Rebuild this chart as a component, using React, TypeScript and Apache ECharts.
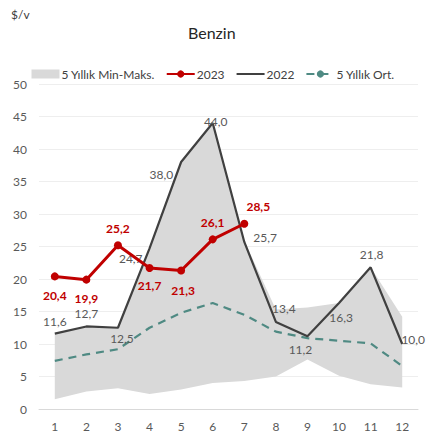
import React, { useEffect, useRef } from "react";
import * as echarts from "echarts";

const months = ["1", "2", "3", "4", "5", "6", "7", "8", "9", "10", "11", "12"];
const bandMin = [1.5, 2.7, 3.2, 2.3, 3.0, 4.0, 4.3, 5.0, 7.6, 5.1, 3.8, 3.3];
const bandMax = [11.6, 12.7, 12.5, 24.7, 38.0, 44.0, 25.9, 15.3, 15.6, 16.3, 21.8, 14.2];
const y2023 = [20.4, 19.9, 25.2, 21.7, 21.3, 26.1, 28.5];
const y2022 = [11.6, 12.7, 12.5, 24.7, 38.0, 44.0, 25.7, 13.4, 11.2, 16.3, 21.8, 10.0];
const avg5 = [7.4, 8.4, 9.2, 12.5, 14.8, 16.3, 14.5, 11.9, 10.9, 10.5, 10.1, 6.6];

const pos2023: [string, number[]][] = [
  ["bottom", [0, 4]],
  ["bottom", [0, 4]],
  ["top", [0, -2]],
  ["bottom", [0, 3]],
  ["bottom", [2, 5]],
  ["top", [0, -2]],
  ["top", [14, -2]],
];
const pos2022: [string, number[]][] = [
  ["top", [0, -1]],
  ["top", [0, -2]],
  ["bottom", [4, 0]],
  ["left", [-2, 10]],
  ["left", [-3, 12]],
  ["top", [3, 9]],
  ["right", [4, -4]],
  ["top", [8, -2]],
  ["bottom", [-7, 2]],
  ["bottom", [2, 3]],
  ["top", [1, -2]],
  ["top", [11, 6]],
];

const fmt = (v: number) => v.toFixed(1).replace(".", ",");

export default function App() {
  const ref = useRef<HTMLDivElement>(null);
  useEffect(() => {
    if (!ref.current) return;
    const chart = echarts.init(ref.current, null, { renderer: "svg" });
    const font = "Lato, 'Noto Sans', sans-serif";
    chart.setOption({
      animation: false,
      textStyle: { fontFamily: font },
      title: [
        {
          text: "Benzin",
          left: 183,
          top: 19,
          textStyle: { fontSize: 16, fontWeight: "normal", color: "#262626", fontFamily: font },
        },
        {
          text: "$/v",
          left: 6,
          top: 3,
          textStyle: { fontSize: 12, fontWeight: "normal", color: "#404040", fontFamily: font },
        },
      ],
      legend: {
        top: 63,
        left: "center",
        itemWidth: 28,
        itemHeight: 9,
        itemGap: 11,
        textStyle: { fontSize: 12, color: "#404040", fontFamily: font, padding: [0, 0, 0, -3] },
        data: [
          { name: "5 Yıllık Min-Maks.", icon: "rect", itemStyle: { color: "#D9D9D9" } },
          { name: "2023" },
          { name: "2022", itemStyle: { opacity: 0 } },
          { name: "5 Yıllık Ort." },
        ],
      },
      grid: { left: 39, right: 8, top: 84, bottom: 25 },
      xAxis: {
        type: "category",
        data: months,
        boundaryGap: true,
        axisTick: { show: false },
        axisLine: { lineStyle: { color: "#D9D9D9" } },
        axisLabel: { color: "#595959", fontSize: 12, margin: 11, fontFamily: font },
      },
      yAxis: {
        type: "value",
        min: 0,
        max: 50,
        interval: 5,
        axisLabel: { color: "#595959", fontSize: 12, margin: 12, fontFamily: font },
        splitLine: { lineStyle: { color: "#EEEEEE" } },
      },
      series: [
        {
          name: "bandMin",
          type: "line",
          stack: "band",
          data: bandMin,
          symbol: "none",
          lineStyle: { opacity: 0 },
          silent: true,
          z: 1,
        },
        {
          name: "5 Yıllık Min-Maks.",
          type: "line",
          stack: "band",
          data: bandMax.map((v, i) => +(v - bandMin[i]).toFixed(2)),
          symbol: "none",
          lineStyle: { opacity: 0 },
          itemStyle: { color: "#D9D9D9" },
          areaStyle: { color: "#D9D9D9", opacity: 1 },
          z: 1,
        },
        {
          name: "5 Yıllık Ort.",
          type: "line",
          data: avg5,
          symbol: "none",
          itemStyle: { color: "#4F8A83" },
          lineStyle: { color: "#4F8A83", width: 2.2, type: [8, 6] },
          z: 3,
        },
        {
          name: "2022",
          type: "line",
          data: y2022.map((v, i) => ({
            value: v,
            label: { position: pos2022[i][0], offset: pos2022[i][1] },
          })),
          symbol: "circle",
          symbolSize: 0,
          showSymbol: true,
          itemStyle: { color: "#404040" },
          lineStyle: { color: "#404040", width: 2.2 },
          label: {
            show: true,
            color: "#595959",
            fontSize: 12,
            fontFamily: font,
            formatter: (p: any) => fmt(p.value),
          },
          z: 4,
        },
        {
          name: "2023",
          type: "line",
          data: y2023.map((v, i) => ({
            value: v,
            label: { position: pos2023[i][0], offset: pos2023[i][1] },
          })),
          symbol: "circle",
          symbolSize: 8,
          itemStyle: { color: "#C00000" },
          lineStyle: { color: "#C00000", width: 3 },
          label: {
            show: true,
            color: "#C00000",
            fontWeight: "bold",
            fontSize: 12,
            fontFamily: font,
            formatter: (p: any) => fmt(p.value),
          },
          z: 5,
        },
      ],
    });
    return () => chart.dispose();
  }, []);
  return <div ref={ref} style={{ width: 426, height: 434, position: "absolute", left: 0, top: 0 }} />;
}
